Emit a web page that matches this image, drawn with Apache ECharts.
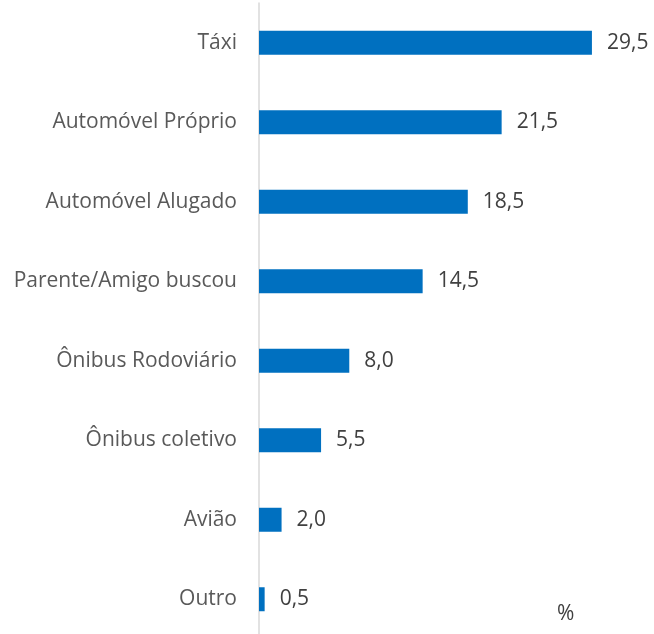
<!DOCTYPE html>
<html>
<head>
<meta charset="utf-8">
<script src="https://cdn.jsdelivr.net/npm/echarts@6/dist/echarts.min.js"></script>
<style>
  html, body { margin: 0; padding: 0; background: #fff; overflow: hidden; }
  #chart { width: 654px; height: 640px; }
</style>
</head>
<body>
<div id="chart"></div>
<script>
// dados do gráfico (de cima para baixo)
var categorias = ['Táxi', 'Automóvel Próprio', 'Automóvel Alugado', 'Parente/Amigo buscou',
  'Ônibus Rodoviário', 'Ônibus coletivo', 'Avião', 'Outro']
var valores = [29.5, 21.5, 18.5, 14.5, 8.0, 5.5, 2.0, 0.5]
var unidade = '%'

var fonte = '"Open Sans", "Noto Sans", sans-serif'
// o eixo passa do fundo da imagem, por isso o div é um pouco mais alto que a janela
var myChart = echarts.init(document.getElementById('chart'))

var option = {
  animation: false,
  grid: { left: 259, right: 0, top: 3, bottom: 1, containLabel: false },
  xAxis: {
    type: 'value',
    min: 0,
    max: 35,
    show: false
  },
  yAxis: {
    type: 'category',
    inverse: true,
    data: categorias,
    axisLine: { show: true, lineStyle: { color: '#d9d9d9', width: 1.5 } },
    axisTick: { show: false },
    axisLabel: {
      color: '#595959',
      fontFamily: fonte,
      fontSize: 21,
      margin: 22
    }
  },
  series: [{
    type: 'bar',
    data: valores,
    barWidth: 24,
    itemStyle: { color: '#0070c0' },
    label: {
      show: true,
      position: 'right',
      distance: 15,
      color: '#404040',
      fontFamily: fonte,
      fontSize: 21,
      formatter: function (p) { return p.value.toFixed(1).replace('.', ',') }
    }
  }],
  graphic: [{
    type: 'text',
    x: 557,
    y: 614,
    style: { text: unidade, fill: '#404040', font: '21px ' + fonte, textVerticalAlign: 'middle' }
  }]
}
myChart.setOption(option)
</script>
</body>
</html>
